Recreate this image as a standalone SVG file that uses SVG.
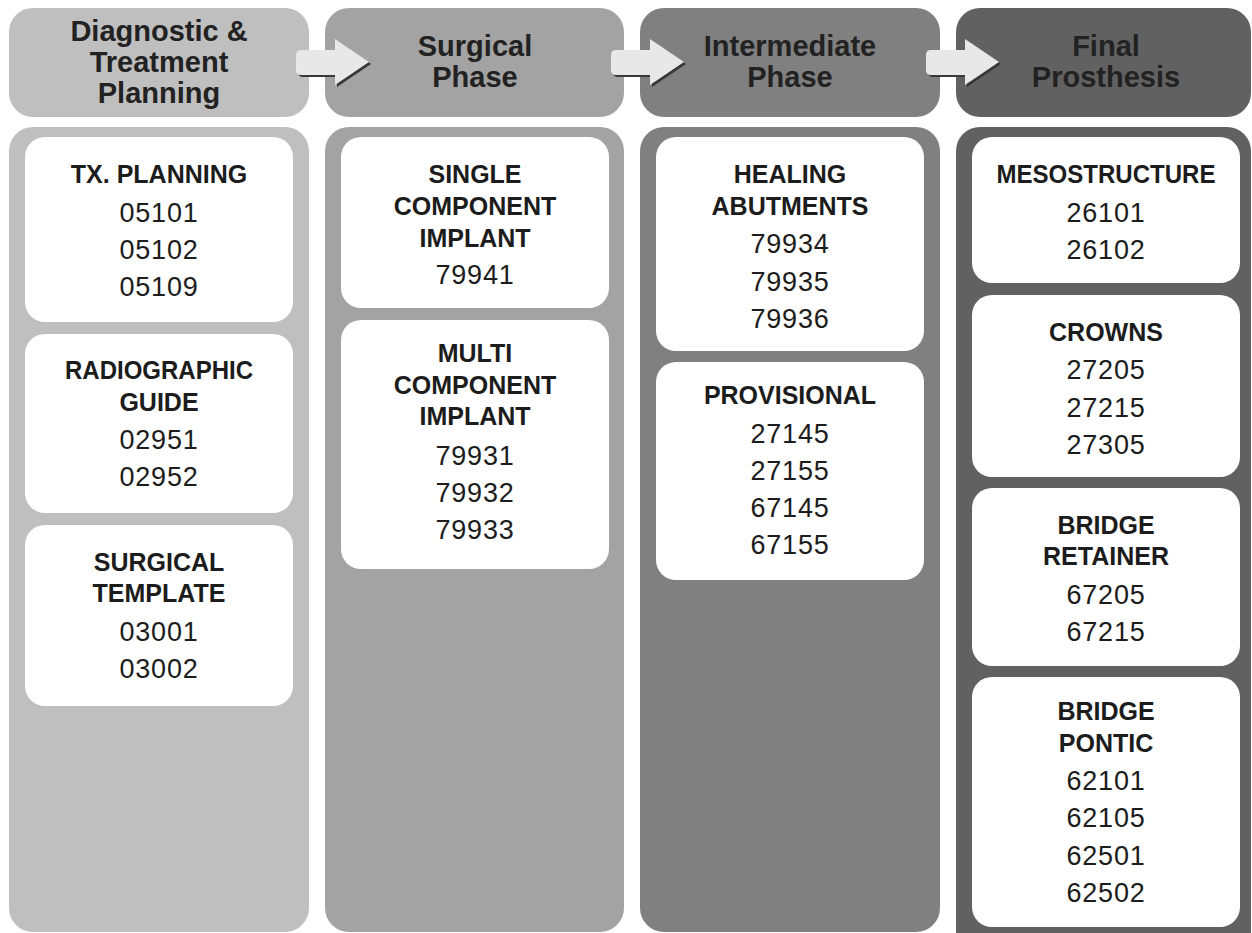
<svg xmlns="http://www.w3.org/2000/svg" xmlns:xlink="http://www.w3.org/1999/xlink" width="1252" height="933" viewBox="0 0 1252 933">
  <defs>
    <style>
      .hdr { font-family: "Liberation Sans", Arial, sans-serif; font-weight: bold; font-size: 29px; fill: #222222; text-anchor: middle; }
      .ttl { font-family: "Liberation Sans", Arial, sans-serif; font-weight: bold; font-size: 25px; fill: #1c1c1c; text-anchor: middle; }
      .num { font-family: "Liberation Sans", Arial, sans-serif; font-size: 27px; fill: #1c1c1c; text-anchor: middle; letter-spacing: 0.8px; }
      .card { fill: #ffffff; }
      .c1 { fill: #bfbfbf; }
      .c2 { fill: #a3a3a3; }
      .c3 { fill: #808080; }
      .c4 { fill: #616161; }
      .arrow { fill: #e8e8e8; }
      .arrow-shadow { fill: #383838; }
    </style>
    <!-- block arrow between phase headers -->
    <path id="blockArrow" d="M301,50 H335 V39 L369,62 L335,85 V75 H301 Q296,75 296,70 V55 Q296,50 301,50 Z"/>
  </defs>

  <rect width="1252" height="933" fill="#ffffff"/>

  <!-- column 1: diagnostic and treatment planning -->
  <g id="phase-diagnostic">
    <rect class="c1" x="9" y="8" width="300" height="109" rx="24"/>
    <text class="hdr" x="159" y="41">Diagnostic &amp;</text>
    <text class="hdr" x="159" y="72">Treatment</text>
    <text class="hdr" x="159" y="103">Planning</text>
    <rect class="c1" x="9" y="127" width="300" height="805" rx="24"/>
  </g>
  <g id="tx-planning">
    <rect class="card" x="25" y="137" width="268" height="185" rx="20"/>
    <text class="ttl" x="159" y="183">TX. PLANNING</text>
    <text class="num" x="159" y="222">05101</text>
    <text class="num" x="159" y="259">05102</text>
    <text class="num" x="159" y="296">05109</text>
  </g>
  <g id="radiographic-guide">
    <rect class="card" x="25" y="334" width="268" height="179" rx="20"/>
    <text class="ttl" x="159" y="379" textLength="188" lengthAdjust="spacingAndGlyphs">RADIOGRAPHIC</text>
    <text class="ttl" x="159" y="411">GUIDE</text>
    <text class="num" x="159" y="449">02951</text>
    <text class="num" x="159" y="486">02952</text>
  </g>
  <g id="surgical-template">
    <rect class="card" x="25" y="525" width="268" height="181" rx="20"/>
    <text class="ttl" x="159" y="571">SURGICAL</text>
    <text class="ttl" x="159" y="602">TEMPLATE</text>
    <text class="num" x="159" y="641">03001</text>
    <text class="num" x="159" y="678">03002</text>
  </g>

  <!-- column 2: surgical phase -->
  <g id="phase-surgical">
    <rect class="c2" x="325" y="8" width="299" height="109" rx="24"/>
    <text class="hdr" x="475" y="56">Surgical</text>
    <text class="hdr" x="475" y="87">Phase</text>
    <rect class="c2" x="325" y="127" width="299" height="805" rx="24"/>
  </g>
  <g id="single-component-implant">
    <rect class="card" x="341" y="137" width="268" height="171" rx="20"/>
    <text class="ttl" x="475" y="183">SINGLE</text>
    <text class="ttl" x="475" y="215">COMPONENT</text>
    <text class="ttl" x="475" y="247">IMPLANT</text>
    <text class="num" x="475" y="284">79941</text>
  </g>
  <g id="multi-component-implant">
    <rect class="card" x="341" y="320" width="268" height="249" rx="20"/>
    <text class="ttl" x="475" y="362">MULTI</text>
    <text class="ttl" x="475" y="394">COMPONENT</text>
    <text class="ttl" x="475" y="425">IMPLANT</text>
    <text class="num" x="475" y="465">79931</text>
    <text class="num" x="475" y="502">79932</text>
    <text class="num" x="475" y="539">79933</text>
  </g>

  <!-- column 3: intermediate phase -->
  <g id="phase-intermediate">
    <rect class="c3" x="640" y="8" width="300" height="109" rx="24"/>
    <text class="hdr" x="790" y="56">Intermediate</text>
    <text class="hdr" x="790" y="87">Phase</text>
    <rect class="c3" x="640" y="127" width="300" height="805" rx="24"/>
  </g>
  <g id="healing-abutments">
    <rect class="card" x="656" y="137" width="268" height="214" rx="20"/>
    <text class="ttl" x="790" y="183">HEALING</text>
    <text class="ttl" x="790" y="215">ABUTMENTS</text>
    <text class="num" x="790" y="253">79934</text>
    <text class="num" x="790" y="291">79935</text>
    <text class="num" x="790" y="328">79936</text>
  </g>
  <g id="provisional">
    <rect class="card" x="656" y="362" width="268" height="218" rx="20"/>
    <text class="ttl" x="790" y="404">PROVISIONAL</text>
    <text class="num" x="790" y="443">27145</text>
    <text class="num" x="790" y="480">27155</text>
    <text class="num" x="790" y="517">67145</text>
    <text class="num" x="790" y="554">67155</text>
  </g>

  <!-- column 4: final prosthesis -->
  <g id="phase-final">
    <rect class="c4" x="956" y="8" width="295" height="109" rx="24"/>
    <text class="hdr" x="1106" y="56">Final</text>
    <text class="hdr" x="1106" y="87">Prosthesis</text>
    <rect class="c4" x="956" y="127" width="295" height="830" rx="24"/>
  </g>
  <g id="mesostructure">
    <rect class="card" x="972" y="137" width="268" height="146" rx="20"/>
    <text class="ttl" x="1106" y="183" textLength="219" lengthAdjust="spacingAndGlyphs">MESOSTRUCTURE</text>
    <text class="num" x="1106" y="222">26101</text>
    <text class="num" x="1106" y="259">26102</text>
  </g>
  <g id="crowns">
    <rect class="card" x="972" y="295" width="268" height="182" rx="20"/>
    <text class="ttl" x="1106" y="341">CROWNS</text>
    <text class="num" x="1106" y="379">27205</text>
    <text class="num" x="1106" y="417">27215</text>
    <text class="num" x="1106" y="454">27305</text>
  </g>
  <g id="bridge-retainer">
    <rect class="card" x="972" y="488" width="268" height="178" rx="20"/>
    <text class="ttl" x="1106" y="534">BRIDGE</text>
    <text class="ttl" x="1106" y="565">RETAINER</text>
    <text class="num" x="1106" y="604">67205</text>
    <text class="num" x="1106" y="641">67215</text>
  </g>
  <g id="bridge-pontic">
    <rect class="card" x="972" y="677" width="268" height="250" rx="20"/>
    <text class="ttl" x="1106" y="720">BRIDGE</text>
    <text class="ttl" x="1106" y="752">PONTIC</text>
    <text class="num" x="1106" y="790">62101</text>
    <text class="num" x="1106" y="827">62105</text>
    <text class="num" x="1106" y="865">62501</text>
    <text class="num" x="1106" y="902">62502</text>
  </g>

  <!-- flow arrows between phases -->
  <g id="connectors">
    <use xlink:href="#blockArrow" class="arrow-shadow" transform="translate(2,2)"/>
    <use xlink:href="#blockArrow" class="arrow"/>
    <use xlink:href="#blockArrow" class="arrow-shadow" transform="translate(317,2)"/>
    <use xlink:href="#blockArrow" class="arrow" transform="translate(315,0)"/>
    <use xlink:href="#blockArrow" class="arrow-shadow" transform="translate(632,2)"/>
    <use xlink:href="#blockArrow" class="arrow" transform="translate(630,0)"/>
  </g>
</svg>
